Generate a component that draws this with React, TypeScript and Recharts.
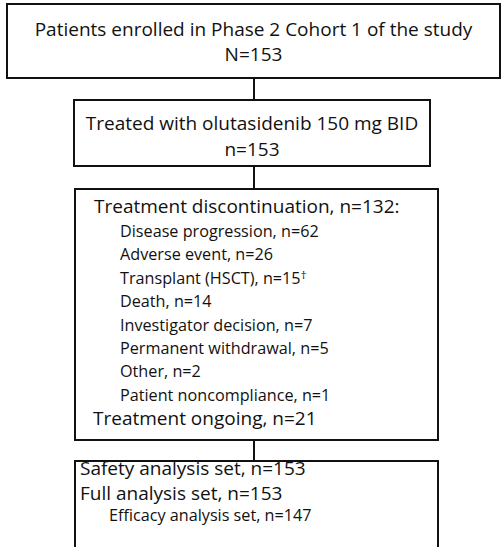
import React from 'react';
import { ComposedChart, XAxis, YAxis, Scatter, ReferenceArea, ReferenceLine } from 'recharts';

// flow stages
const stageLabels = ['Patients enrolled in Phase 2 Cohort 1 of the study', 'Treated with olutasidenib 150 mg BID'];
const stagePrefixes = ['N', 'n'];
const stageCounts = [153, 153];

const discontinuedCount = 132;
const ongoingCount = 21;
const reasonLabels = [
  'Disease progression',
  'Adverse event',
  'Transplant (HSCT)',
  'Death',
  'Investigator decision',
  'Permanent withdrawal',
  'Other',
  'Patient noncompliance',
];
const reasonCounts = [62, 26, 15, 14, 7, 5, 2, 1];
const reasonMarks = ['', '', '†', '', '', '', '', ''];

const analysisLabels = ['Safety analysis set', 'Full analysis set', 'Efficacy analysis set'];
const analysisCounts = [153, 153, 147];

const W = 501;
const H = 547;
const BIG = 19;
const SMALL = 16.2;
const FONT = '"Open Sans", Lato, sans-serif';

const boxes = [
  { x1: 7, x2: 500, y1: 4, y2: 78 },
  { x1: 74, x2: 430, y1: 100, y2: 166 },
  { x1: 75, x2: 438, y1: 189, y2: 440 },
  { x1: 75, x2: 438, y1: 461, y2: 570 },
];
const linkX = 254;

type Row = { x: number; y: number; text: string; mark?: string; size: number; anchor: 'start' | 'middle' };

const rows: Row[] = [];
rows.push({ x: 253.5, y: 36, text: stageLabels[0], size: BIG, anchor: 'middle' });
rows.push({ x: 253.5, y: 61, text: `${stagePrefixes[0]}=${stageCounts[0]}`, size: BIG, anchor: 'middle' });
rows.push({ x: 252, y: 130, text: stageLabels[1], size: BIG, anchor: 'middle' });
rows.push({ x: 252, y: 156, text: `${stagePrefixes[1]}=${stageCounts[1]}`, size: BIG, anchor: 'middle' });
rows.push({ x: 94, y: 213, text: `Treatment discontinuation, n=${discontinuedCount}:`, size: BIG, anchor: 'start' });
reasonLabels.forEach((label, i) => {
  rows.push({
    x: 120,
    y: 237 + i * 23.4,
    text: `${label}, n=${reasonCounts[i]}`,
    mark: reasonMarks[i],
    size: SMALL,
    anchor: 'start',
  });
});
rows.push({ x: 93, y: 425, text: `Treatment ongoing, n=${ongoingCount}`, size: BIG, anchor: 'start' });
analysisLabels.forEach((label, i) => {
  rows.push({
    x: i < 2 ? 80 : 109,
    y: [475, 500, 521][i],
    text: `${label}, n=${analysisCounts[i]}`,
    size: i < 2 ? BIG : SMALL,
    anchor: 'start',
  });
});

const TextRow = (props: any) => {
  const { cx, cy, payload } = props;
  return (
    <text x={cx} y={cy} textAnchor={payload.anchor} fontSize={payload.size} fontFamily={FONT} fill="#111">
      {payload.text}
      {payload.mark ? (
        <tspan fontSize={payload.size * 0.7} dy={-5}>
          {payload.mark}
        </tspan>
      ) : null}
    </text>
  );
};

export default function App() {
  return (
    <div style={{ position: 'absolute', left: 0, top: 0, width: W, height: H, background: '#fff' }}>
      <ComposedChart width={W} height={H} data={rows} margin={{ top: 0, right: 0, bottom: 0, left: 0 }}>
        <XAxis type="number" dataKey="x" domain={[0, W]} hide allowDataOverflow />
        <YAxis type="number" dataKey="y" domain={[0, H]} reversed hide allowDataOverflow />
        {boxes.map((b, i) => (
          <ReferenceArea
            key={i}
            x1={b.x1}
            x2={b.x2}
            y1={b.y1}
            y2={b.y2}
            ifOverflow="visible"
            fill="none"
            fillOpacity={0}
            stroke="#111"
            strokeWidth={2}
          />
        ))}
        {boxes.slice(1).map((b, i) => (
          <ReferenceLine
            key={i}
            segment={[
              { x: linkX, y: boxes[i].y2 },
              { x: linkX, y: b.y1 },
            ]}
            stroke="#111"
            strokeWidth={2}
            ifOverflow="visible"
          />
        ))}
        <Scatter dataKey="y" data={rows} shape={<TextRow />} isAnimationActive={false} />
      </ComposedChart>
    </div>
  );
}
